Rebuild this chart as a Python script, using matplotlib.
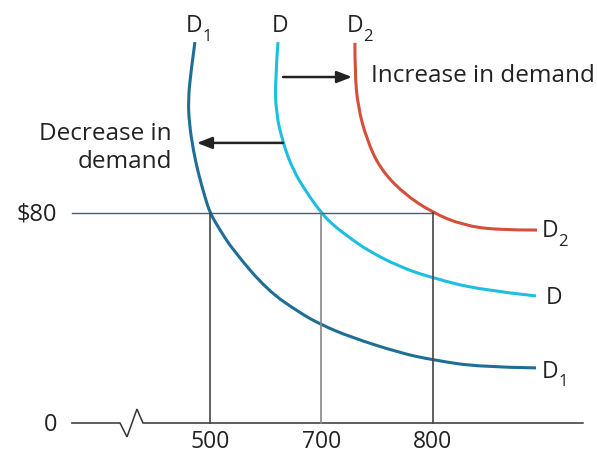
import matplotlib
matplotlib.use("Agg")
import matplotlib.pyplot as plt
from matplotlib.path import Path
from matplotlib.patches import PathPatch
from matplotlib.transforms import offset_copy

plt.rcParams['font.family'] = ['Open Sans', 'DejaVu Sans']

# quantity tick positions (schematic axis, equal spacing) and labels
q_pos = [0, 1, 2]
q_labels = ['500', '700', '800']
price_level = 80

# demand curves: (quantity position, price)
d1_x = [-0.135, -0.173, -0.195, -0.186, -0.150, -0.105, -0.045, 0.0, 0.090,
        0.206, 0.511, 0.807, 1.004, 1.256, 1.704, 2.0, 2.422, 2.924]
d1_y = [145.1, 133.3, 123.0, 114.3, 104.0, 95.2, 86.1, 80.0, 73.5,
        65.9, 50.7, 41.9, 37.3, 32.8, 26.7, 24.0, 21.3, 21.0]

d_x = [0.610, 0.585, 0.592, 0.655, 0.744, 0.870, 1.0, 1.103, 1.256,
       1.408, 1.704, 2.0, 2.422, 2.924]
d_y = [145.1, 130.7, 118.1, 106.7, 96.4, 87.6, 80.0, 75.4, 70.5,
       65.9, 59.4, 55.2, 50.7, 48.4]

d2_x = [1.300, 1.300, 1.327, 1.408, 1.525, 1.731, 2.0, 2.269, 2.574, 2.933]
d2_y = [144.8, 133.3, 120.4, 107.8, 97.0, 87.6, 80.0, 75.4, 73.5, 73.5]

c_d1 = '#1f6e96'
c_d = '#1cbfe0'
c_d2 = '#d5503a'
txt = '#222222'

fig = plt.figure(figsize=(5.97, 4.55), dpi=100)
ax = fig.add_axes([0, 0, 1, 1])
ax.set_xlim(-1.883, 3.471)
ax.set_ylim(-12.19, 161.14)
ax.axis('off')


def smooth_curve(xs, ys, color):
    # quadratic bezier through midpoints, read points used as control points
    pts = list(zip(xs, ys))
    verts = [pts[0]]
    codes = [Path.MOVETO]
    for i in range(1, len(pts) - 1):
        mid = ((pts[i][0] + pts[i + 1][0]) / 2, (pts[i][1] + pts[i + 1][1]) / 2)
        if i == len(pts) - 2:
            mid = pts[-1]
        verts += [pts[i], mid]
        codes += [Path.CURVE3, Path.CURVE3]
    ax.add_patch(PathPatch(Path(verts, codes), fill=False, edgecolor=color,
                           lw=2.2, capstyle='butt'))


# horizontal axis with break mark
x0, x1 = -1.238, 3.345
zx = [x0, -0.807, -0.744, -0.655, -0.601, x1]
zy = [0, 0, -5.3, 5.3, 0, 0]
ax.plot(zx, zy, color='#333333', lw=1.1, solid_joinstyle='miter')

# price line and quantity drop lines
ax.plot([x0, q_pos[-1]], [price_level, price_level], color='#2b6a86', lw=1.0)
for p, c in zip(q_pos, ['#444444', '#888888', '#444444']):
    ax.plot([p, p], [0, price_level], color=c, lw=1.2)

smooth_curve(d1_x, d1_y, c_d1)
smooth_curve(d_x, d_y, c_d)
smooth_curve(d2_x, d2_y, c_d2)

# axis labels
for p, lab in zip(q_pos, q_labels):
    ax.text(p, -7.4, lab, ha='center', va='center', fontsize=16.5, color=txt)
ax.text(-1.37, price_level - 0.4, '$80', ha='right', va='center', fontsize=17, color=txt)
ax.text(-1.37, -0.9, '0', ha='right', va='center', fontsize=17, color=txt)


def curve_label(x, y, sub):
    ax.text(x, y, 'D', ha='center', va='center', fontsize=16.5, color=txt)
    if sub:
        tr = offset_copy(ax.transData, fig=fig, x=6, y=-7.5, units='points')
        ax.text(x, y, sub, transform=tr, ha='left', va='center',
                fontsize=12, color=txt)


curve_label(-0.143, 151.2, '1')
curve_label(0.628, 151.2, '')
curve_label(1.300, 151.2, '2')
curve_label(3.049, 73.1, '2')
curve_label(3.085, 47.6, '')
curve_label(3.049, 19.4, '1')

# shift arrows
arrow = dict(arrowstyle='-|>,head_length=0.9,head_width=0.35', color=txt,
             lw=1.8, shrinkA=0, shrinkB=0)
ax.annotate('', xy=(-0.117, 106.7), xytext=(0.655, 106.7), arrowprops=arrow)
ax.annotate('', xy=(1.274, 131.8), xytext=(0.655, 131.8), arrowprops=arrow)

ax.text(1.444, 132.2, 'Increase in demand', ha='left', va='center',
        fontsize=17.5, color=txt)
ax.text(-0.341, 104.7, 'Decrease in\ndemand', ha='right', va='center',
        multialignment='right', fontsize=17.5, color=txt, linespacing=1.2)

fig.savefig('out.png', dpi=100)
